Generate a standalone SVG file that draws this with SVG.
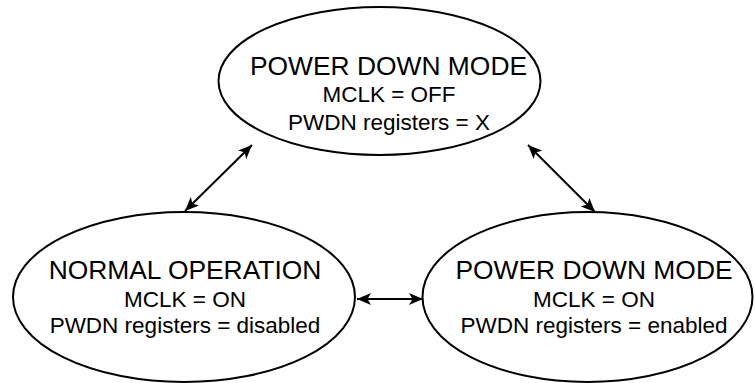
<svg xmlns="http://www.w3.org/2000/svg" width="755" height="383" viewBox="0 0 755 383">
<style>
.node ellipse{fill:#fff;stroke:#000;stroke-width:2}
text{font-family:"Liberation Sans",Arial,sans-serif;fill:#000;text-anchor:middle}
.t{font-size:26.4px}
.s{font-size:22.5px}
.conn line{stroke:#000;stroke-width:2;fill:none}
</style>
<defs>
<marker id="ah" viewBox="0 0 14 12" refX="14" refY="6" markerWidth="14" markerHeight="12" markerUnits="userSpaceOnUse" orient="auto-start-reverse">
<path d="M0,0 L14,6 L0,12 L3.5,6 Z" fill="#000"/>
</marker>
</defs>
<rect width="755" height="383" fill="#fff"/>
<g id="pd-off" class="node">
<ellipse cx="379.5" cy="81" rx="161" ry="74"/>
<text class="t" x="388.5" y="75">POWER DOWN MODE</text>
<text class="s" x="389" y="102">MCLK = OFF</text>
<text class="s" x="389" y="130">PWDN registers = X</text>
</g>
<g id="normal" class="node">
<ellipse cx="184" cy="297" rx="171" ry="85"/>
<text class="t" x="185" y="279">NORMAL OPERATION</text>
<text class="s" x="185" y="307">MCLK = ON</text>
<text class="s" x="185" y="333">PWDN registers = disabled</text>
</g>
<g id="pd-on" class="node">
<ellipse cx="587.5" cy="297" rx="165" ry="85"/>
<text class="t" x="594" y="279">POWER DOWN MODE</text>
<text class="s" x="594" y="307">MCLK = ON</text>
<text class="s" x="594" y="333">PWDN registers = enabled</text>
</g>
<g id="connectors" class="conn">
<line x1="185" y1="211" x2="252" y2="145" marker-start="url(#ah)" marker-end="url(#ah)"/>
<line x1="528" y1="145" x2="595" y2="212" marker-start="url(#ah)" marker-end="url(#ah)"/>
<line x1="357" y1="299" x2="423" y2="299" marker-start="url(#ah)" marker-end="url(#ah)"/>
</g>
</svg>
